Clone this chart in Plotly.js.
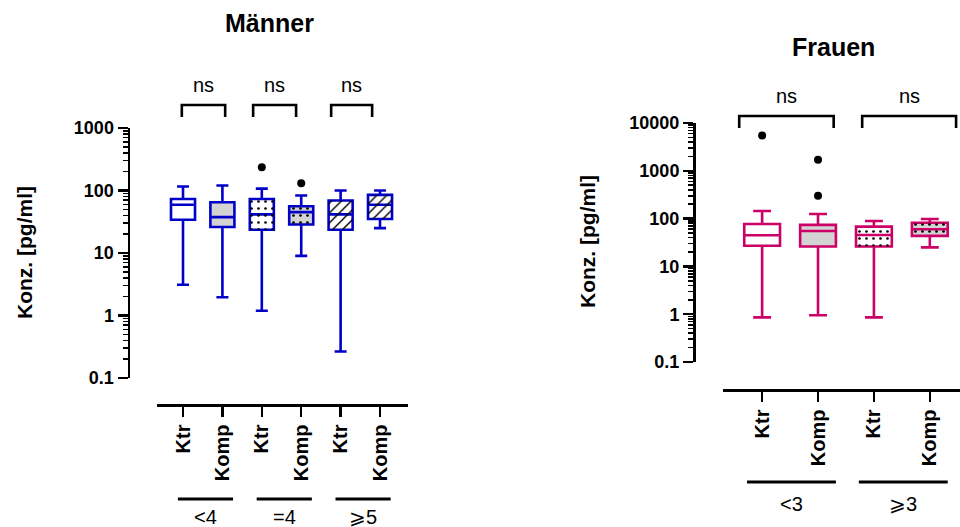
<!DOCTYPE html>
<html>
<head>
<meta charset="utf-8">
<script src="https://cdn.plot.ly/plotly-3.0.1.min.js"></script>
<style>html,body{margin:0;padding:0;background:#fff;}#chart{width:960px;height:527px;}</style>
</head>
<body>
<div id="chart"></div>
<script>
// ---------- data ----------
const menCategories = ["Ktr", "Komp", "Ktr", "Komp", "Ktr", "Komp"];
const menGroups = ["<4", "=4", "⩾5"];
const menLower  = [3.1, 1.96, 1.19, 9.0, 0.265, 25];
const menQ1     = [34, 26, 23.5, 28.5, 23.5, 35];
const menMedian = [59, 37.5, 41.5, 45, 41.5, 59];
const menQ3     = [73, 65, 73, 56, 69, 85];
const menUpper  = [116, 120, 107, 83, 100, 100];
const menOutlierBox = [2, 3];
const menOutlierVal = [236, 131];

const womenCategories = ["Ktr", "Komp", "Ktr", "Komp"];
const womenGroups = ["<3", "⩾3"];
const womenLower  = [0.86, 0.95, 0.86, 25];
const womenQ1     = [27, 26, 26, 43.5];
const womenMedian = [45, 55, 45.5, 60];
const womenQ3     = [77, 74, 68, 82];
const womenUpper  = [144, 125, 89, 98];
const womenOutlierBox = [0, 1, 1];
const womenOutlierVal = [5500, 1700, 300];

const sigLabel = "ns";

// ---------- styles ----------
const FONT = "Liberation Sans, Arial, Helvetica, sans-serif";
const BLUE = "#0000C8";
const PINK = "#CC0066";
const GRAY = "#D3D3D3";
const menFill = ["white", GRAY, "white", GRAY, "white", "white"];
const menPattern = ["", "", ".", ".", "/", "/"];
const womenFill = ["white", GRAY, "white", GRAY];
const womenPattern = ["", "", ".", "."];

const W = 960, H = 527;
const px = v => v / W;
const py = v => 1 - v / H;

const traces = [];
function addBoxes(cats, lo, q1, med, q3, hi, fills, pats, color, xa, ya, width) {
  cats.forEach((c, i) => {
    if (pats[i]) {
      const a = i - width / 2, b = i + width / 2;
      traces.push({
        type: "scatter", mode: "lines", xaxis: xa, yaxis: ya,
        x: [a, b, b, a, a], y: [q1[i], q1[i], q3[i], q3[i], q1[i]],
        fill: "toself", fillcolor: "rgba(0,0,0,0)",
        fillpattern: {shape: pats[i], fgcolor: "black", bgcolor: "rgba(0,0,0,0)",
                      size: 7, solidity: pats[i] === "." ? 0.12 : 0.2},
        line: {width: 0}, hoverinfo: "skip", showlegend: false
      });
    }
    traces.push({
      type: "box", xaxis: xa, yaxis: ya,
      x: [i], q1: [q1[i]], median: [med[i]], q3: [q3[i]],
      lowerfence: [lo[i]], upperfence: [hi[i]],
      width: width, whiskerwidth: 0.5, boxpoints: false,
      fillcolor: fills[i], line: {color: color, width: 2.6},
      showlegend: false
    });
  });
}
addBoxes(menCategories, menLower, menQ1, menMedian, menQ3, menUpper, menFill, menPattern, BLUE, "x", "y", 0.61);
addBoxes(womenCategories, womenLower, womenQ1, womenMedian, womenQ3, womenUpper, womenFill, womenPattern, PINK, "x2", "y2", 0.64);

traces.push({type: "scatter", mode: "markers", xaxis: "x", yaxis: "y",
  x: menOutlierBox, y: menOutlierVal, marker: {color: "black", size: 8}, showlegend: false});
traces.push({type: "scatter", mode: "markers", xaxis: "x2", yaxis: "y2",
  x: womenOutlierBox, y: womenOutlierVal, marker: {color: "black", size: 8}, showlegend: false});

const tickFontX = {family: FONT, size: 20, color: "black", weight: "bold"};
const tickFontY = {family: FONT, size: 18, color: "black", weight: "bold"};
function xAxis(dom, range, pos, cats) {
  return {domain: dom, range: range, anchor: "free", position: pos,
    showline: true, linewidth: 2.5, linecolor: "black", mirror: false,
    ticks: "outside", ticklen: 10, tickwidth: 2.5, tickcolor: "black",
    tickmode: "array", tickvals: cats.map((c, i) => i), ticktext: cats,
    tickangle: -90, tickfont: tickFontX, showgrid: false, zeroline: false, fixedrange: true};
}
function yAxis(dom, range, pos) {
  return {domain: dom, type: "log", range: range, anchor: "free", position: pos,
    showline: true, linewidth: 2.5, linecolor: "black",
    ticks: "outside", ticklen: 10, tickwidth: 2.5, tickcolor: "black",
    dtick: 1, tickformat: "~g", tickfont: tickFontY,
    minor: {ticks: "outside", ticklen: 5, tickwidth: 1.5, tickcolor: "black", dtick: "D1", showgrid: false},
    showgrid: false, zeroline: false, fixedrange: true};
}

const shapes = [], annotations = [];
function bracket(xref, x0, x1, yTop, yBot, textY, textSize) {
  shapes.push({type: "path", xref: xref, yref: "paper",
    path: `M ${x0},${yBot} L ${x0},${yTop} L ${x1},${yTop} L ${x1},${yBot}`,
    line: {color: "black", width: 2.6}});
  annotations.push({xref: xref, yref: "paper", x: (x0 + x1) / 2, y: textY, text: sigLabel,
    showarrow: false, font: {family: FONT, size: textSize, color: "black"}, xanchor: "center", yanchor: "middle"});
}
// men brackets
bracket("x", -0.03, 1.07, py(105), py(117), py(85), 20);
bracket("x", 1.78, 2.87, py(105), py(117), py(85), 20);
bracket("x", 3.76, 4.80, py(105), py(117), py(85), 20);
// women brackets
bracket("x2", -0.41, 1.28, py(116), py(128), py(96), 20);
bracket("x2", 1.79, 3.47, py(116), py(128), py(96), 20);

function groupBar(xref, x0, x1, yBar, label, yLab) {
  shapes.push({type: "line", xref: xref, yref: "paper", x0: x0, x1: x1, y0: yBar, y1: yBar,
    line: {color: "black", width: 3}});
  annotations.push({xref: xref, yref: "paper", x: (x0 + x1) / 2, y: yLab, text: label,
    showarrow: false, font: {family: FONT, size: 20, color: "black"}, xanchor: "center", yanchor: "middle"});
}
menGroups.forEach((g, k) => groupBar("x", 2 * k - 0.13, 2 * k + 1.27, py(499), g, py(517)));
womenGroups.forEach((g, k) => groupBar("x2", 2 * k - 0.27, 2 * k + 1.32, py(482), g, py(504)));

annotations.push({xref: "paper", yref: "paper", x: px(269.5), y: py(23), text: "<b>Männer</b>",
  showarrow: false, font: {family: FONT, size: 25, color: "black"}, xanchor: "center", yanchor: "middle"});
annotations.push({xref: "paper", yref: "paper", x: px(833), y: py(47), text: "<b>Frauen</b>",
  showarrow: false, font: {family: FONT, size: 25, color: "black"}, xanchor: "center", yanchor: "middle"});
annotations.push({xref: "paper", yref: "paper", x: px(24), y: py(253), text: "<b>Konz. [pg/ml]</b>",
  textangle: -90, showarrow: false, font: {family: FONT, size: 21, color: "black"}, xanchor: "center", yanchor: "middle"});
annotations.push({xref: "paper", yref: "paper", x: px(587), y: py(242), text: "<b>Konz. [pg/ml]</b>",
  textangle: -90, showarrow: false, font: {family: FONT, size: 21, color: "black"}, xanchor: "center", yanchor: "middle"});

const layout = {
  width: W, height: H,
  margin: {l: 0, r: 0, t: 0, b: 0, pad: 0},
  paper_bgcolor: "white", plot_bgcolor: "rgba(0,0,0,0)",
  showlegend: false,
  font: {family: FONT, color: "black"},
  xaxis: xAxis([px(157), px(408)], [-0.66, 5.71], py(405), menCategories),
  yaxis: yAxis([py(378), py(128)], [-1, 3], px(128.5)),
  xaxis2: xAxis([px(723), 1], [-0.70, 3.54], py(390), womenCategories),
  yaxis2: yAxis([py(362), py(123)], [-1, 4], px(694)),
  shapes: shapes,
  annotations: annotations
};

Plotly.newPlot("chart", traces, layout, {staticPlot: true, displayModeBar: false});
</script>
</body>
</html>
